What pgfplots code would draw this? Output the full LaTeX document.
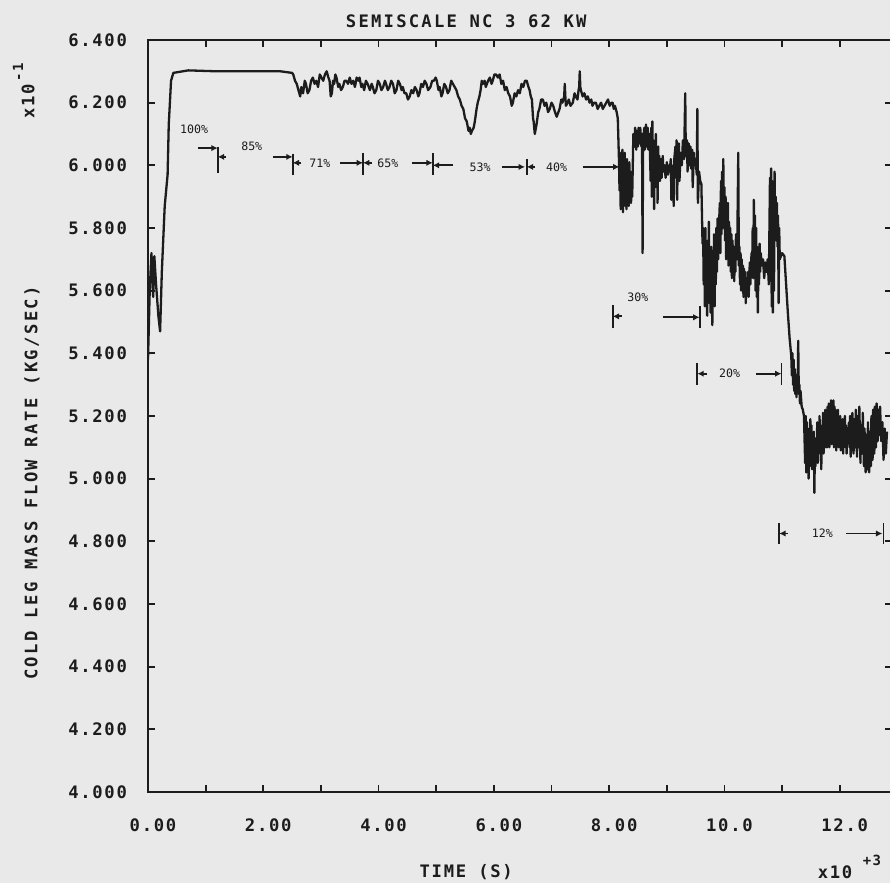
\documentclass[border=0pt]{standalone}
\usepackage{fontspec}
\usepackage{pgfplots}
\pgfplotsset{compat=1.18}
\usetikzlibrary{arrows.meta}
\newfontfamily\pf{DejaVu Sans Mono}[LetterSpace=10]
\newfontfamily\pft{DejaVu Sans Mono}[LetterSpace=13]
\newfontfamily\pfw{DejaVu Sans Mono}[LetterSpace=14]
\newfontfamily\af{DejaVu Sans Mono}
\definecolor{bg}{RGB}{233,233,233}
\definecolor{ink}{RGB}{28,28,28}
\tikzset{
  ann/.style={line width=0.9pt, draw=ink},
  hd/.style={-{Latex[length=3.2pt,width=3.2pt]}},
  pct/.style={font=\af\fontsize{5.8}{6}\selectfont, text=ink, inner sep=0pt},
}
\begin{document}
\begin{tikzpicture}
\path[use as bounding box, fill=bg] (-74pt,-45.5pt) rectangle (371pt,396pt);
\begin{axis}[
  at={(0,0)}, anchor=south west, scale only axis,
  width=371.8pt, height=376pt,
  xmin=0, xmax=12.9, ymin=4, ymax=6.4,
  axis line style={line width=1.3pt, draw=ink},
  tick style={line width=0.9pt, draw=ink},
  major tick length=3.5pt, minor tick length=3.5pt,
  xtick={0,2,4,6,8,10,12},
  xticklabels={0.00,2.00,4.00,6.00,8.00,10.0,12.0},
  minor xtick={1,3,5,7,9,11},
  ytick={4,4.2,4.4,4.6,4.8,5,5.2,5.4,5.6,5.8,6,6.2,6.4},
  yticklabels={4.000,4.200,4.400,4.600,4.800,5.000,5.200,5.400,5.600,5.800,6.000,6.200,6.400},
  xticklabel style={font=\pf\bfseries\fontsize{8.6}{9}\selectfont, text=ink, yshift=-9.6pt, xshift=2.5pt},
  yticklabel style={font=\pf\bfseries\fontsize{8.6}{9}\selectfont, text=ink, xshift=-7pt},
  every axis title shift=0pt,
  title={SEMISCALE NC 3 62 KW},
  title style={font=\pft\bfseries\fontsize{8.6}{9}\selectfont, text=ink, at={(axis description cs:0.428,1.0253)}, anchor=center},
  xlabel={TIME (S)},
  xlabel style={font=\pf\bfseries\fontsize{8.6}{9}\selectfont, text=ink, at={(axis description cs:0.428,-0.1064)}, anchor=center},
  ylabel={COLD LEG MASS FLOW RATE (KG/SEC)},
  ylabel style={font=\pfw\bfseries\fontsize{8.6}{9}\selectfont, text=ink, at={(axis description cs:-0.156,0.411)}, anchor=center},
]
\addplot[ink, line width=1.15pt, line join=round] coordinates {
(0,5.38)(0.03,5.60)(0.06,5.72)(0.09,5.58)(0.11,5.71)(0.14,5.62)(0.18,5.52)(0.21,5.47)(0.24,5.66)(0.29,5.87)(0.34,5.97)(0.36,6.13)(0.40,6.27)(0.44,6.295)(0.7,6.303)(1.2,6.30)(1.8,6.30)(2.3,6.30)(2.5,6.295)
(2.52,6.29)(2.55,6.27)(2.58,6.26)(2.61,6.24)(2.64,6.22)(2.66,6.25)(2.69,6.23)(2.72,6.27)(2.74,6.26)(2.77,6.23)(2.80,6.24)(2.83,6.27)(2.86,6.28)(2.89,6.26)(2.92,6.27)(2.95,6.25)(2.98,6.29)(3.01,6.28)(3.04,6.27)(3.07,6.29)(3.10,6.30)(3.13,6.28)(3.15,6.27)(3.17,6.22)(3.19,6.23)(3.21,6.27)(3.23,6.26)(3.25,6.29)(3.27,6.28)(3.30,6.25)(3.32,6.26)(3.35,6.24)(3.38,6.25)(3.41,6.27)(3.44,6.27)(3.47,6.26)(3.50,6.28)(3.53,6.26)(3.56,6.27)(3.59,6.25)(3.62,6.28)(3.65,6.27)(3.67,6.28)(3.70,6.25)(3.72,6.26)(3.75,6.24)(3.78,6.27)(3.81,6.26)(3.85,6.24)(3.88,6.26)(3.90,6.25)(3.93,6.23)(3.96,6.24)(3.99,6.27)(4.02,6.26)(4.05,6.24)(4.08,6.25)(4.11,6.27)(4.13,6.26)(4.16,6.24)(4.19,6.25)(4.22,6.27)(4.25,6.26)(4.28,6.23)(4.31,6.24)(4.34,6.27)(4.37,6.26)(4.40,6.24)(4.42,6.25)(4.45,6.23)(4.48,6.23)(4.51,6.21)(4.54,6.22)(4.57,6.24)(4.60,6.23)(4.63,6.25)(4.66,6.24)(4.69,6.22)(4.71,6.23)(4.74,6.26)(4.77,6.25)(4.80,6.27)(4.83,6.26)(4.86,6.24)(4.90,6.25)(4.93,6.27)(4.96,6.27)(4.99,6.28)(5.01,6.27)(5.04,6.24)(5.06,6.25)(5.09,6.22)(5.11,6.23)(5.14,6.26)(5.17,6.25)(5.20,6.23)(5.23,6.24)(5.26,6.27)(5.29,6.26)(5.32,6.25)(5.35,6.24)(5.38,6.22)(5.41,6.21)(5.44,6.19)(5.47,6.18)(5.50,6.15)(5.53,6.14)(5.56,6.11)(5.58,6.12)(5.60,6.10)(5.62,6.11)(5.65,6.12)(5.67,6.14)(5.70,6.18)(5.72,6.20)(5.75,6.22)(5.77,6.24)(5.79,6.27)(5.81,6.26)(5.84,6.27)(5.86,6.25)(5.90,6.27)(5.93,6.28)(5.96,6.26)(5.98,6.27)(6.01,6.29)(6.04,6.29)(6.07,6.28)(6.10,6.29)(6.13,6.26)(6.16,6.27)(6.19,6.24)(6.22,6.25)(6.25,6.23)(6.28,6.22)(6.31,6.19)(6.33,6.20)(6.36,6.23)(6.39,6.22)(6.42,6.24)(6.45,6.23)(6.48,6.26)(6.51,6.25)(6.54,6.27)(6.57,6.27)(6.60,6.25)(6.62,6.24)(6.64,6.22)(6.66,6.21)(6.68,6.15)(6.69,6.14)(6.71,6.10)(6.73,6.12)(6.74,6.13)(6.77,6.17)(6.79,6.18)(6.82,6.21)(6.85,6.21)(6.88,6.19)(6.91,6.20)(6.94,6.17)(6.97,6.18)(7.00,6.20)(7.03,6.19)(7.06,6.17)(7.09,6.155)(7.12,6.17)(7.14,6.18)(7.17,6.21)(7.19,6.20)(7.22,6.22)(7.23,6.26)(7.24,6.22)(7.25,6.19)(7.28,6.20)(7.30,6.21)(7.33,6.19)(7.37,6.20)(7.40,6.23)(7.42,6.22)(7.45,6.21)(7.47,6.24)(7.48,6.25)(7.49,6.30)(7.50,6.25)(7.51,6.24)(7.54,6.22)(7.57,6.23)(7.60,6.21)(7.63,6.22)(7.66,6.20)(7.69,6.21)(7.71,6.19)(7.74,6.20)(7.77,6.20)(7.80,6.18)(7.83,6.19)(7.86,6.20)(7.89,6.18)(7.92,6.19)(7.95,6.20)(7.98,6.21)(8.01,6.19)(8.04,6.20)(8.06,6.20)(8.08,6.18)(8.10,6.19)(8.13,6.17)
(8.15,6.15)(8.17,6.02)(8.18,5.92)(8.19,6.04)(8.20,5.86)(8.21,6.03)(8.22,5.88)(8.23,6.05)(8.24,5.85)(8.25,6.02)(8.26,5.90)(8.27,6.04)(8.28,5.87)(8.29,6.00)(8.30,5.86)(8.31,6.02)(8.32,5.89)(8.33,5.99)(8.34,5.87)(8.35,6.01)(8.36,5.90)(8.37,5.98)(8.38,5.88)(8.39,5.96)(8.40,5.90)
(8.42,6.10)(8.44,6.06)(8.45,6.12)(8.47,6.05)(8.48,6.11)(8.50,6.06)(8.51,6.12)(8.53,6.07)(8.54,6.12)(8.56,6.06)(8.57,6.10)(8.58,5.72)(8.59,6.08)(8.61,6.12)(8.62,6.05)(8.64,6.13)(8.65,6.06)(8.67,6.12)(8.68,6.05)(8.70,6.10)
(8.72,5.95)(8.73,6.12)(8.74,5.90)(8.75,6.14)(8.76,5.96)(8.77,6.08)(8.78,5.86)(8.79,6.05)(8.80,5.93)(8.81,6.10)(8.82,5.98)(8.83,6.04)(8.84,5.88)(8.85,6.06)(8.86,5.97)(8.87,6.03)(8.88,5.95)(8.90,6.02)(8.91,5.96)(8.93,6.03)(8.94,5.98)(8.96,6.00)(8.98,5.96)(9.00,6.01)(9.02,5.97)(9.04,6.00)(9.05,5.98)
(9.07,6.02)(9.08,5.89)(9.09,6.00)(9.11,5.97)(9.12,5.87)(9.13,6.02)(9.15,6.06)(9.16,5.96)(9.17,6.08)(9.18,5.89)(9.19,6.04)(9.21,6.07)(9.22,5.95)(9.24,6.04)(9.26,6.00)(9.28,6.08)(9.30,6.02)(9.32,6.23)(9.33,6.03)(9.35,6.08)(9.36,5.98)(9.38,6.07)(9.39,6.00)(9.41,6.06)(9.42,5.99)(9.44,6.05)(9.45,5.93)(9.47,6.04)(9.48,6.00)(9.50,6.02)(9.52,5.97)(9.53,6.18)(9.54,5.88)(9.56,5.98)(9.58,5.95)(9.60,5.94)
(9.62,5.75)(9.63,5.80)(9.64,5.62)(9.65,5.78)(9.66,5.55)(9.67,5.80)(9.68,5.58)(9.69,5.73)(9.70,5.52)(9.71,5.76)(9.72,5.60)(9.73,5.82)(9.74,5.56)(9.75,5.70)(9.76,5.53)(9.77,5.74)(9.78,5.58)(9.79,5.49)(9.80,5.72)(9.81,5.60)(9.82,5.78)(9.83,5.55)(9.84,5.73)(9.85,5.62)(9.86,5.80)(9.87,5.66)(9.88,5.83)(9.89,5.70)(9.90,5.78)
(9.92,5.88)(9.93,5.72)(9.94,5.95)(9.95,5.78)(9.96,5.98)(9.97,5.80)(9.98,6.02)(9.99,5.85)(10.00,5.93)(10.01,5.76)(10.02,5.90)(10.03,5.70)(10.04,5.86)(10.05,5.74)(10.06,5.88)(10.07,5.68)(10.08,5.82)(10.09,5.70)(10.10,5.80)(10.11,5.66)(10.12,5.78)(10.13,5.64)(10.14,5.76)(10.15,5.68)(10.16,5.74)(10.17,5.63)(10.18,5.72)(10.19,5.66)(10.20,5.78)(10.22,5.70)(10.24,6.04)(10.25,5.68)
(10.26,5.74)(10.27,5.62)(10.28,5.72)(10.29,5.60)(10.30,5.70)(10.31,5.63)(10.32,5.68)(10.33,5.58)(10.34,5.67)(10.35,5.61)(10.36,5.66)(10.37,5.56)(10.38,5.64)(10.40,5.60)(10.41,5.66)(10.42,5.58)(10.44,5.69)(10.45,5.62)
(10.47,5.72)(10.48,5.65)(10.49,5.80)(10.50,5.64)(10.51,5.89)(10.52,5.70)(10.53,5.84)(10.54,5.60)(10.55,5.80)(10.56,5.58)(10.57,5.74)(10.58,5.53)(10.59,5.70)(10.60,5.62)(10.61,5.75)(10.62,5.66)(10.63,5.72)(10.65,5.68)(10.67,5.70)(10.69,5.64)(10.71,5.69)(10.73,5.66)
(10.75,5.70)(10.77,5.62)(10.79,5.96)(10.80,5.72)(10.81,5.99)(10.82,5.55)(10.83,5.95)(10.84,5.53)(10.85,5.92)(10.86,5.60)(10.87,5.98)(10.88,5.76)(10.89,5.90)(10.90,5.78)(10.91,5.88)(10.92,5.74)(10.93,5.84)(10.94,5.56)(10.95,5.80)(10.96,5.70)
(11.00,5.72)(11.04,5.71)(11.07,5.62)(11.10,5.53)(11.13,5.45)(11.16,5.39)
(11.17,5.33)(11.18,5.40)(11.19,5.30)(11.20,5.38)(11.21,5.28)(11.22,5.35)(11.23,5.27)(11.24,5.33)(11.25,5.26)(11.26,5.32)(11.27,5.28)(11.28,5.44)(11.29,5.27)(11.30,5.30)(11.31,5.24)(11.32,5.28)(11.34,5.23)(11.36,5.22)(11.38,5.20)
(11.40,5.05)(11.41,5.20)(11.42,5.02)(11.43,5.18)(11.44,5.06)(11.45,5.16)(11.46,5.00)(11.47,5.14)(11.48,5.04)(11.49,5.19)(11.50,5.08)(11.51,5.17)(11.52,5.03)(11.53,5.12)(11.54,5.06)(11.55,5.15)(11.56,4.955)(11.57,5.10)(11.58,5.04)(11.59,5.13)(11.60,5.07)(11.61,5.18)(11.62,5.05)(11.63,5.16)(11.64,5.09)(11.65,5.20)(11.66,5.08)(11.67,5.14)(11.68,5.03)(11.69,5.17)(11.70,5.10)(11.71,5.21)(11.72,5.08)(11.73,5.18)(11.74,5.12)(11.75,5.22)(11.76,5.10)
(11.77,5.20)(11.78,5.10)(11.79,5.23)(11.80,5.12)(11.81,5.24)(11.82,5.10)(11.83,5.22)(11.84,5.14)(11.85,5.25)(11.86,5.11)(11.87,5.24)(11.88,5.13)(11.89,5.25)(11.90,5.10)(11.91,5.23)(11.92,5.12)(11.93,5.22)(11.94,5.09)(11.95,5.20)(11.96,5.12)(11.97,5.22)(11.98,5.10)(11.99,5.19)(12.00,5.11)(12.01,5.20)(12.02,5.09)(12.03,5.17)(12.04,5.12)(12.05,5.19)(12.06,5.08)(12.07,5.18)(12.08,5.11)(12.09,5.20)(12.10,5.10)(12.11,5.17)(12.12,5.08)(12.13,5.16)(12.14,5.12)(12.16,5.18)
(12.17,5.10)(12.18,5.20)(12.19,5.07)(12.20,5.18)(12.21,5.09)(12.22,5.21)(12.24,5.08)(12.25,5.19)(12.27,5.10)(12.28,5.22)(12.30,5.07)(12.31,5.20)(12.33,5.10)(12.34,5.23)(12.36,5.05)(12.37,5.17)(12.39,5.08)(12.40,5.21)(12.42,5.04)(12.43,5.16)(12.45,5.02)(12.46,5.14)(12.48,5.03)(12.49,5.18)(12.51,5.02)(12.52,5.15)(12.54,5.04)(12.55,5.20)(12.57,5.06)(12.58,5.22)(12.60,5.08)(12.61,5.23)(12.63,5.10)(12.64,5.24)(12.66,5.12)(12.67,5.22)(12.69,5.14)(12.70,5.23)(12.72,5.12)(12.74,5.18)(12.76,5.06)(12.78,5.16)(12.80,5.08)(12.82,5.15)
};
% power-level annotations
\draw[ann,hd] (0.87,6.055) -- (1.21,6.055);
\draw[ann] (1.21,5.975) -- (1.21,6.06);
\draw[ann,hd] (1.36,6.027) -- (1.21,6.027);
\node[pct] at (0.80,6.116) {100\%};
\node[pct] at (1.80,6.06) {85\%};
\draw[ann,hd] (2.17,6.027) -- (2.51,6.027);
\draw[ann] (2.51,5.97) -- (2.51,6.035);
\draw[ann,hd] (2.66,6.008) -- (2.51,6.008);
\node[pct] at (2.98,6.008) {71\%};
\draw[ann,hd] (3.33,6.008) -- (3.73,6.008);
\draw[ann] (3.73,5.97) -- (3.73,6.04);
\draw[ann,hd] (3.88,6.008) -- (3.73,6.008);
\node[pct] at (4.16,6.008) {65\%};
\draw[ann,hd] (4.58,6.008) -- (4.94,6.008);
\draw[ann] (4.94,5.97) -- (4.94,6.04);
\draw[ann,hd] (5.29,6.0) -- (4.94,6.0);
\node[pct] at (5.76,5.995) {53\%};
\draw[ann,hd] (6.14,5.995) -- (6.54,5.995);
\draw[ann] (6.57,5.97) -- (6.57,6.02);
\draw[ann,hd] (6.72,5.995) -- (6.57,5.995);
\node[pct] at (7.09,5.995) {40\%};
\draw[ann,hd] (7.54,5.995) -- (8.18,5.995);
\draw[ann] (8.06,5.48) -- (8.06,5.555);
\draw[ann,hd] (8.22,5.518) -- (8.06,5.518);
\node[pct] at (8.5,5.58) {30\%};
\draw[ann,hd] (8.93,5.515) -- (9.57,5.515);
\draw[ann] (9.57,5.48) -- (9.57,5.55);
\draw[ann] (9.53,5.30) -- (9.53,5.37);
\draw[ann,hd] (9.69,5.335) -- (9.53,5.335);
\node[pct] at (10.09,5.335) {20\%};
\draw[ann,hd] (10.55,5.335) -- (10.99,5.335);
\draw[ann] (10.99,5.30) -- (10.99,5.37);
\draw[ann] (10.95,4.79) -- (10.95,4.86);
\draw[ann,hd] (11.11,4.825) -- (10.95,4.825);
\node[pct] at (11.7,4.825) {12\%};
\draw[ann,hd] (12.11,4.825) -- (12.74,4.825);
\draw[ann] (12.76,4.79) -- (12.76,4.86);
\end{axis}
\node[font=\pf\bfseries\fontsize{8.6}{9}\selectfont, text=ink] at (343.5pt,-40pt) {x10};
\node[font=\pf\bfseries\fontsize{7}{7}\selectfont, text=ink] at (362pt,-34pt) {+3};
\node[font=\pf\bfseries\fontsize{8.6}{9}\selectfont, text=ink, rotate=90] at (-60pt,345.5pt) {x10};
\node[font=\pf\bfseries\fontsize{7}{7}\selectfont, text=ink, rotate=90] at (-65pt,360pt) {-1};
\end{tikzpicture}
\end{document}
